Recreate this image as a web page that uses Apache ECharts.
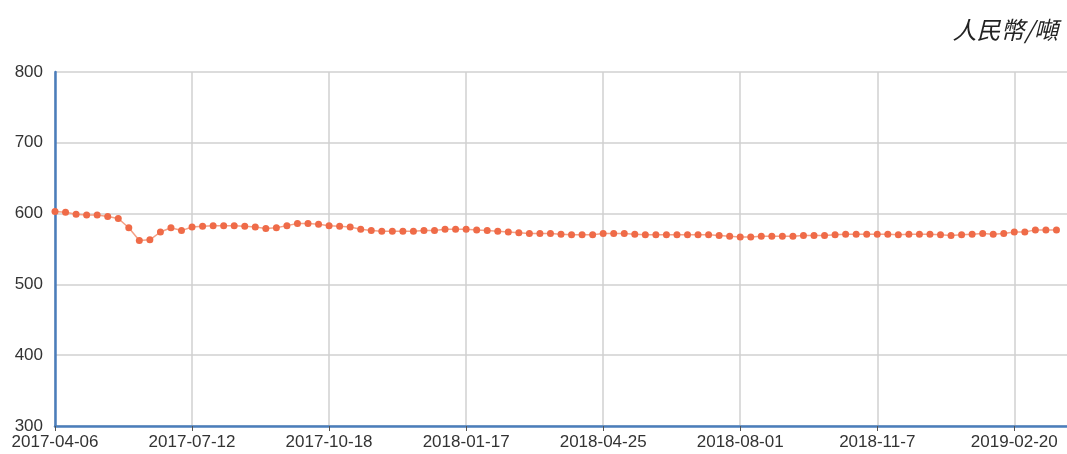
<!DOCTYPE html>
<html>
<head>
<meta charset="utf-8">
<script src="https://cdn.jsdelivr.net/npm/echarts@6/dist/echarts.min.js"></script>
<style>
  html, body { margin: 0; padding: 0; background: #fff; }
  #chart { width: 1067px; height: 454px; }
</style>
</head>
<body>
<div id="chart"></div>
<script>
// x 轴刻度标签（每 13 个点一个）
const tickLabels = ['2017-04-06', '2017-07-12', '2017-10-18', '2018-01-17', '2018-04-25', '2018-08-01', '2018-11-7', '2019-02-20']
const tickStep = 13

// 价格（人民幣/噸）
const prices = [
  603, 602, 599, 598, 598, 596, 593, 580, 562, 563,
  574, 580, 576, 581, 582, 583, 583, 583, 582, 581,
  579, 580, 583, 586, 586, 585, 583, 582, 581, 578,
  576, 575, 575, 575, 575, 576, 576, 578, 578, 578,
  577, 576, 575, 574, 573, 572, 572, 572, 571, 570,
  570, 570, 572, 572, 572, 571, 570, 570, 570, 570,
  570, 570, 570, 569, 568, 567, 567, 568, 568, 568,
  568, 569, 569, 569, 570, 571, 571, 571, 571, 571,
  570, 571, 571, 571, 570, 569, 570, 571, 572, 571,
  572, 574, 574, 577, 577, 577, null
]

// 类目：刻度处用原标签，其余按周往后推
function pad(n) { return n < 10 ? '0' + n : '' + n }
const categories = prices.map((v, i) => {
  const k = Math.floor(i / tickStep)
  const r = i % tickStep
  if (r === 0 && k < tickLabels.length) return tickLabels[k]
  const base = new Date(tickLabels[Math.min(k, tickLabels.length - 1)].replace(/-(\d)$/, '-0$1') + 'T00:00:00Z')
  const extra = k >= tickLabels.length ? (k - tickLabels.length + 1) * tickStep + r : r
  base.setUTCDate(base.getUTCDate() + extra * 7)
  return base.getUTCFullYear() + '-' + pad(base.getUTCMonth() + 1) + '-' + pad(base.getUTCDate())
})

const myChart = echarts.init(document.getElementById('chart'))
const option = {
  animation: false,
  backgroundColor: '#fff',
  title: {
    text: '人民幣/噸',
    right: 4,
    top: 13,
    textStyle: {
      fontFamily: 'Noto Sans CJK TC',
      fontStyle: 'italic',
      fontWeight: 'normal',
      fontSize: 24,
      color: '#222'
    }
  },
  grid: {
    left: 55,
    right: -4,
    top: 72,
    bottom: 28,
    containLabel: false
  },
  xAxis: {
    type: 'category',
    data: categories,
    boundaryGap: false,
    axisLine: { lineStyle: { color: '#4a7dbb', width: 2.5 } },
    axisTick: { interval: tickStep - 1, length: 5, lineStyle: { color: '#555', width: 1 } },
    axisLabel: {
      interval: tickStep - 1,
      color: '#333',
      fontSize: 17,
      fontFamily: 'Liberation Sans',
      margin: 8
    },
    splitLine: { show: true, interval: tickStep - 1, lineStyle: { color: '#d0d0d0', width: 1.5 } }
  },
  yAxis: {
    type: 'value',
    min: 300,
    max: 800,
    interval: 100,
    axisLine: { show: true, lineStyle: { color: '#4a7dbb', width: 2.5 } },
    axisTick: { show: false },
    axisLabel: {
      color: '#333',
      fontSize: 17,
      fontFamily: 'Liberation Sans',
      margin: 12
    },
    splitLine: { lineStyle: { color: '#d0d0d0', width: 1.5 } }
  },
  series: [{
    type: 'line',
    data: prices,
    symbol: 'circle',
    symbolSize: 7,
    showSymbol: true,
    showAllSymbol: true,
    itemStyle: { color: '#ef6b48' },
    lineStyle: { color: '#f4a085', width: 1.5 }
  }]
}
myChart.setOption(option)
</script>
</body>
</html>
